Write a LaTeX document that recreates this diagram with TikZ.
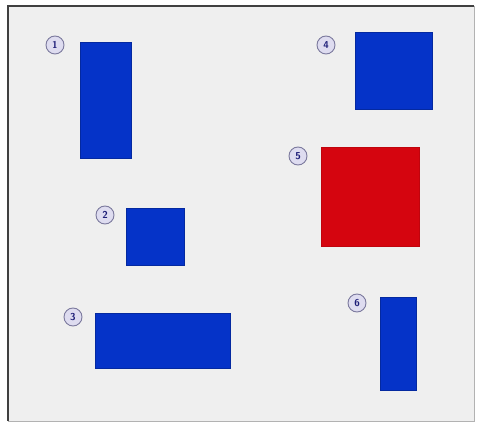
\documentclass[tikz,border=0pt]{standalone}
\usepackage{tikz}
\begin{document}
\definecolor{bg}{HTML}{EFEFEF}
\definecolor{boxblue}{HTML}{0533C8}
\definecolor{boxred}{HTML}{D5050F}
\definecolor{numfill}{HTML}{DEDCF0}
\definecolor{numdraw}{HTML}{7C7A9E}
\definecolor{numtext}{HTML}{1E1E78}
\begin{tikzpicture}[x=1pt,y=-1pt,
  bluebox/.style={fill=boxblue,draw=boxblue!80!black,line width=0.6pt},
  redbox/.style={fill=boxred,draw=boxred!90!black,line width=0.6pt},
  num/.style={circle,fill=numfill,draw=numdraw,line width=0.9pt,minimum size=18pt,inner sep=0pt,font=\sffamily\bfseries,text=numtext}]
\useasboundingbox (0,0) rectangle (480,422);
\fill[white] (0,0) rectangle (480,422);
\fill[bg] (8,6) rectangle (474,421);
\draw[black!75,line width=1.2pt] (8,421) -- (8,6) -- (474,6);
\draw[black!30,line width=0.8pt] (474,6) -- (474,421) -- (8,421);
\node[bluebox,minimum width=51pt,minimum height=116pt,inner sep=0pt] (r1) at (105.5,100) {};
\node[bluebox,minimum width=58pt,minimum height=57pt,inner sep=0pt] (r2) at (155,236.5) {};
\node[bluebox,minimum width=135pt,minimum height=55pt,inner sep=0pt] (r3) at (163,341) {};
\node[bluebox,minimum width=77pt,minimum height=77pt,inner sep=0pt] (r4) at (393.5,70.5) {};
\node[redbox,minimum width=98pt,minimum height=99pt,inner sep=0pt] (r5) at (370,196.5) {};
\node[bluebox,minimum width=36pt,minimum height=93pt,inner sep=0pt] (r6) at (398.5,343.5) {};
\node[num] (n1) at (55,45) {1};
\node[num] (n2) at (105,215) {2};
\node[num] (n3) at (73,317) {3};
\node[num] (n4) at (326,45) {4};
\node[num] (n5) at (298,156) {5};
\node[num] (n6) at (357,303) {6};
\end{tikzpicture}
\end{document}
